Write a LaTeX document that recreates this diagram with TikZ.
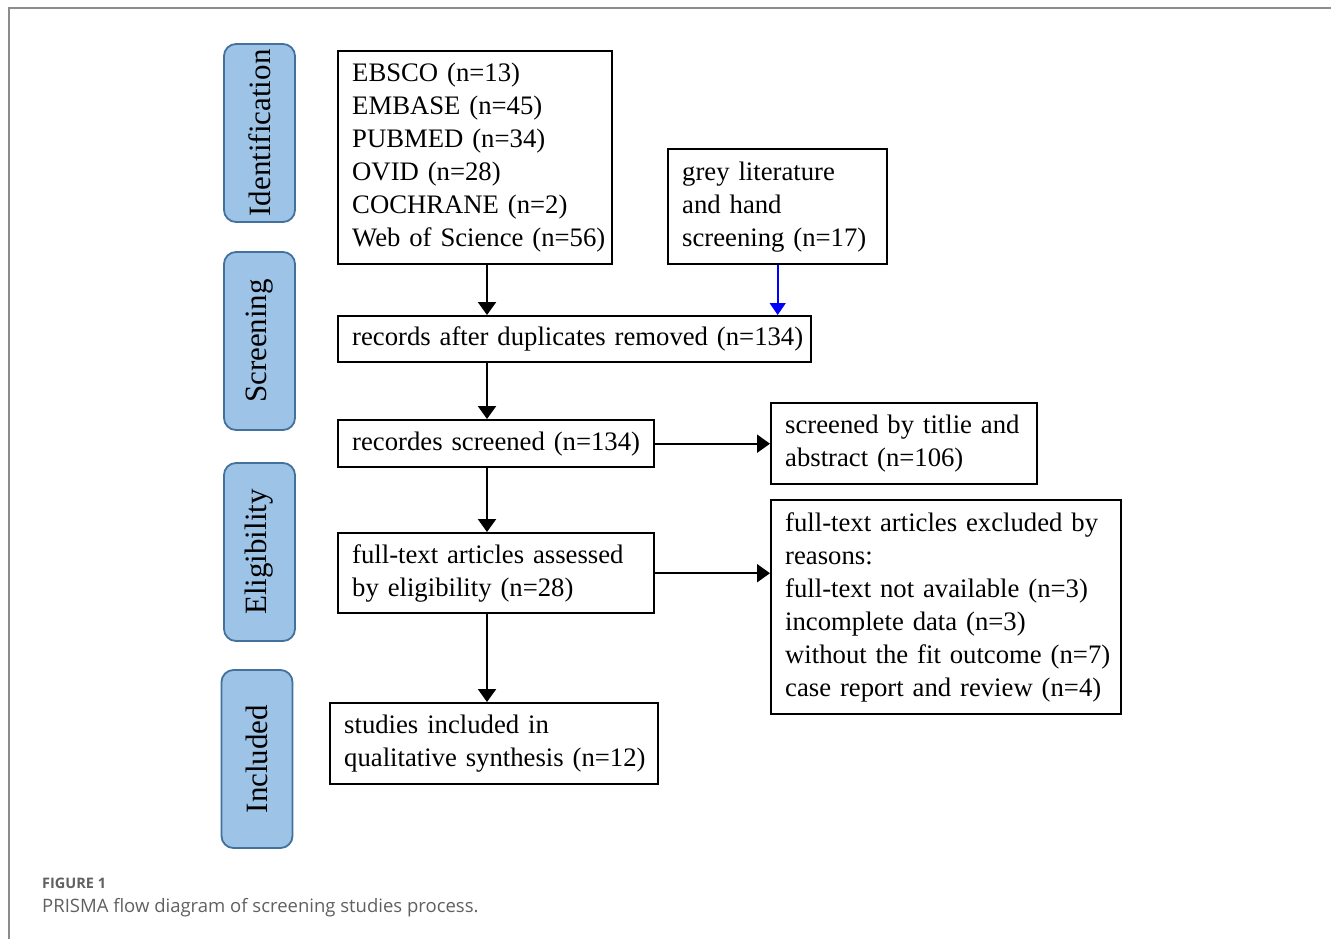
\documentclass[tikz,border=0pt]{standalone}
\usepackage{fontspec}
\setmainfont{Liberation Serif}
\newfontfamily\capfont{Open Sans}
\usetikzlibrary{arrows.meta}
\definecolor{stagefill}{HTML}{9DC3E6}
\definecolor{stageline}{HTML}{41719C}
\definecolor{framegray}{HTML}{8C8C8C}
\definecolor{capgray}{HTML}{606060}
\newcommand\nbline[1]{\mbox{#1}}
\hfuzz=100pt
\tikzset{
  stagebox/.style={draw=stageline, fill=stagefill, line width=1.8pt, rounded corners=12pt,
    rotate=90, minimum width=178pt, minimum height=71pt, inner sep=0pt,
    font=\fontsize{31}{36}\selectfont},
  flowbox/.style={draw=black, line width=2.4pt, anchor=north west, align=left,
    inner xsep=14pt, inner ysep=0pt, font=\fontsize{26.7}{33}\selectfont},
  arr/.style={line width=2.2pt, -{Triangle[width=18pt,length=13pt]}},
  bluearr/.style={draw=blue, line width=1.6pt, -{Triangle[width=16pt,length=12pt]}, blue}
}
\begin{document}
\begin{tikzpicture}[x=1pt,y=-1pt]
\useasboundingbox (0,0) rectangle (1331,938);
% outer frame
\draw[framegray, line width=2pt] (9,945) -- (9,8) -- (1340,8);

% stage labels
\node[stagebox] (sid) at (259.5,133) {Identification};
\node[stagebox] (ssc) at (259.5,341) {Screening};
\node[stagebox] (sel) at (259.5,552) {Eligibility};
\node[stagebox] (sin) at (257,759) {Included};

% flow boxes
\node[flowbox, minimum width=274pt, minimum height=213pt, text width=246pt] (src) at (337,50)
  {\nbline{EBSCO (n=13)}\\\nbline{EMBASE (n=45)}\\\nbline{PUBMED (n=34)}\\\nbline{OVID (n=28)}\\\nbline{COCHRANE (n=2)}\\\nbline{Web of Science (n=56)}};
\node[flowbox, minimum width=219pt, minimum height=115pt, text width=191pt] (grey) at (667,148)
  {\nbline{grey literature}\\\nbline{and hand}\\\nbline{screening (n=17)}};
\node[flowbox, minimum width=473pt, minimum height=46pt, text width=445pt] (dup) at (337,315)
  {\nbline{records after duplicates removed (n=134)}};
\node[flowbox, minimum width=316pt, minimum height=47pt, text width=288pt] (scr) at (337,419)
  {\nbline{recordes screened (n=134)}};
\node[flowbox, minimum width=266pt, minimum height=81pt, text width=238pt] (tit) at (770,402)
  {\nbline{screened by titlie and}\\\nbline{abstract (n=106)}};
\node[flowbox, minimum width=316pt, minimum height=80pt, text width=288pt] (ft) at (337,532)
  {\nbline{full-text articles assessed}\\\nbline{by eligibility (n=28)}};
\node[flowbox, minimum width=350pt, minimum height=214pt, text width=322pt] (exc) at (770,499)
  {\nbline{full-text articles excluded by}\\\nbline{reasons:}\\\nbline{full-text not available (n=3)}\\\nbline{incomplete data (n=3)}\\\nbline{without the fit outcome (n=7)}\\\nbline{case report and review (n=4)}};
\node[flowbox, minimum width=328pt, minimum height=81pt, text width=300pt] (inc) at (329,702)
  {\nbline{studies included in}\\\nbline{qualitative synthesis (n=12)}};

% connectors
\coordinate (cx) at (487,0);
\draw[arr] (src.south -| cx) -- (dup.north -| cx);
\draw[bluearr] (grey.south) -- (grey.south |- dup.north);
\draw[arr] (dup.south -| cx) -- (scr.north -| cx);
\draw[arr] (scr.east) -- (scr.east -| tit.west);
\draw[arr] (scr.south -| cx) -- (ft.north -| cx);
\draw[arr] (ft.east) -- (ft.east -| exc.west);
\draw[arr] (ft.south -| cx) -- (inc.north -| cx);

% caption
\node[anchor=base west, inner sep=0pt, text=capgray, font=\capfont\bfseries\fontsize{14.5}{16}\selectfont] (fig) at (42,888) {FIGURE 1};
\node[anchor=base west, inner sep=0pt, text=capgray, font=\capfont\fontsize{18.5}{22}\selectfont] (cap) at (42,912) {PRISMA flow diagram of screening studies process.};
\end{tikzpicture}
\end{document}
